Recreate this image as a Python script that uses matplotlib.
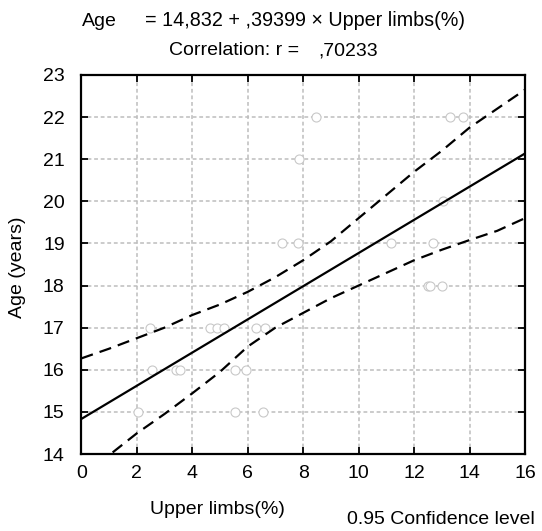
import numpy as np
import matplotlib
matplotlib.use("Agg")
import matplotlib.pyplot as plt

plt.rcParams['font.family'] = ['Liberation Sans', 'DejaVu Sans']

# scatter points (visible ones)
upper_limbs = [8.48, 13.31, 13.77, 7.86, 13.03,
               7.24, 7.80, 11.18, 12.67,
               12.50, 12.56, 13.02,
               2.48, 4.65, 4.91, 5.15, 6.30, 6.61,
               2.54, 3.42, 3.56, 5.55, 5.95,
               2.06, 5.55, 6.57]
age = [22, 22, 22, 21, 20,
       19, 19, 19, 19,
       18, 18, 18,
       17, 17, 17, 17, 17, 17,
       16, 16, 16, 16, 16,
       15, 15, 15]

# regression coefficients from the header
intercept = 14.832
slope = 0.39399
r_value = ",70233"

# 0.95 confidence band, read at integer x
band_x = [0, 1, 2, 3, 4, 5, 6, 7, 8, 9, 10, 11, 12, 13, 14, 15, 16]
band_upper = [16.27, 16.5, 16.75, 17.0, 17.3, 17.55, 17.85, 18.2, 18.6,
              19.05, 19.6, 20.15, 20.7, 21.2, 21.75, 22.2, 22.65]
band_lower = [13.5, 13.97, 14.49, 14.95, 15.44, 15.95, 16.55, 17.0, 17.35,
              17.7, 18.0, 18.3, 18.6, 18.85, 19.08, 19.3, 19.6]

fs = 14

fig = plt.figure(figsize=(5.42, 5.31), dpi=100)
ax = fig.add_axes([0.150, 0.145, 0.8186, 0.7138])

ax.grid(True, color='#bdbdbd', linestyle=(0, (2.5, 1.8)), linewidth=1.1)
ax.set_axisbelow(True)

ax.plot(upper_limbs, age, 'o', markersize=6.5, markerfacecolor='white',
        markeredgecolor='#c8c8c8', markeredgewidth=0.8, zorder=2)

xs = np.array([0, 16])
ax.plot(xs, intercept + slope * xs, color='black', linewidth=1.6, zorder=3)
ax.plot(band_x, band_upper, color='black', linewidth=1.6,
        linestyle=(0, (5.5, 3.2)), zorder=3)
ax.plot(band_x, band_lower, color='black', linewidth=1.6,
        linestyle=(0, (5.5, 3.2)), zorder=3)

ax.set_xlim(0, 16)
ax.set_ylim(14, 23)
ax.set_xticks(range(0, 17, 2))
ax.set_yticks(range(14, 24))
ax.tick_params(direction='in', length=5, width=1.3, top=True, right=True,
               labelsize=fs, colors='black')
ax.tick_params(axis='y', pad=12)
ax.tick_params(axis='x', pad=8)
for s in ax.spines.values():
    s.set_linewidth(1.6)

fig.text(18 / 542, 1 - 267 / 531, 'Age (years)', rotation=90,
         ha='center', va='center', fontsize=fs)
fig.text(217 / 542, 1 - 509 / 531, 'Upper limbs(%)',
         ha='center', va='center', fontsize=fs)
fig.text(347 / 542, 1 - 520 / 531, '0.95 Confidence level',
         ha='left', va='center', fontsize=fs)

# header: regression equation and correlation
fig.text(82 / 542, 1 - 26 / 531, 'Age', ha='left', va='baseline', fontsize=fs)
fig.text(145 / 542, 1 - 26 / 531,
         '= %s + %s × Upper limbs(%%)' % ('14,832', ',39399'),
         ha='left', va='baseline', fontsize=fs + 0.2)
fig.text(169 / 542, 1 - 55 / 531, 'Correlation: r =', ha='left',
         va='baseline', fontsize=fs)
fig.text(318 / 542, 1 - 55 / 531, r_value, ha='left', va='baseline',
         fontsize=fs)

fig.savefig('out.png', dpi=100)
